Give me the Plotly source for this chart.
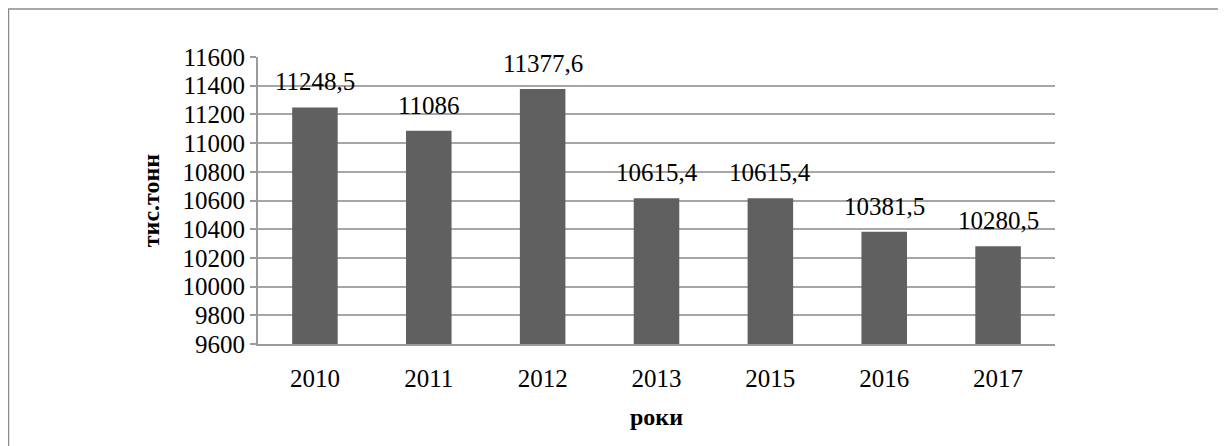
import plotly.graph_objects as go

years = ["2010", "2011", "2012", "2013", "2015", "2016", "2017"]
values = [11248.5, 11086, 11377.6, 10615.4, 10615.4, 10381.5, 10280.5]
y_ticks = [9600, 9800, 10000, 10200, 10400, 10600, 10800, 11000, 11200, 11400, 11600]


def fmt(v):
    return str(int(v)) if float(v).is_integer() else str(v).replace(".", ",")


labels = [fmt(v) for v in values]

FONT = "Liberation Serif"
W, H = 1226, 446
# page has an 8px body margin, so figure coordinates = screen - 8
L, R, T, B = 250, 1047, 49, 336
pw, ph = R - L, B - T

fig = go.Figure(
    go.Bar(
        x=years,
        y=values,
        marker=dict(color="#606060", line=dict(width=0)),
        cliponaxis=False,
        hoverinfo="x+y",
    )
)

for i, (v, lab) in enumerate(zip(values, labels)):
    fig.add_annotation(
        x=i, y=v, text=lab, showarrow=False,
        xref="x", yref="y",
        yanchor="bottom", yshift=10,
        font=dict(family=FONT, size=25, color="#000000"),
    )

fig.update_layout(
    width=W,
    height=H,
    margin=dict(l=L, r=W - R, t=T, b=H - B),
    paper_bgcolor="white",
    plot_bgcolor="white",
    bargap=0.6,
    showlegend=False,
    font=dict(family=FONT, size=25, color="#000000"),
    xaxis=dict(
        type="category",
        categoryorder="array",
        categoryarray=years,
        range=[-0.5, len(years) - 0.5],
        showgrid=False,
        showline=True,
        linecolor="#9a9a9a",
        linewidth=2,
        ticks="",
        tickfont=dict(family=FONT, size=25, color="#000000"),
        ticklabelstandoff=11,
        title=dict(text="<b>роки</b>", font=dict(family=FONT, size=24, color="#000000"), standoff=17),
    ),
    yaxis=dict(
        range=[9600, 11600],
        tickvals=y_ticks,
        tickformat="d",
        showgrid=True,
        gridcolor="#a6a6a6",
        gridwidth=1.5,
        showline=True,
        linecolor="#9a9a9a",
        linewidth=2,
        ticks="outside",
        ticklen=6,
        tickcolor="#9a9a9a",
        tickwidth=1.5,
        tickfont=dict(family=FONT, size=25, color="#000000"),
        zeroline=False,
        title=dict(text="<b>тис.тонн</b>", font=dict(family=FONT, size=24, color="#000000"), standoff=16),
    ),
    shapes=[
        dict(
            type="rect",
            xref="paper",
            yref="paper",
            x0=(0.5 - L) / pw,
            x1=(W + 20 - L) / pw,
            y0=(B - (H + 20)) / ph,
            y1=(B - 1) / ph,
            line=dict(color="#8c8c8c", width=1.5),
            fillcolor="rgba(0,0,0,0)",
            layer="below",
        )
    ],
)

fig.write_html("out.html")
